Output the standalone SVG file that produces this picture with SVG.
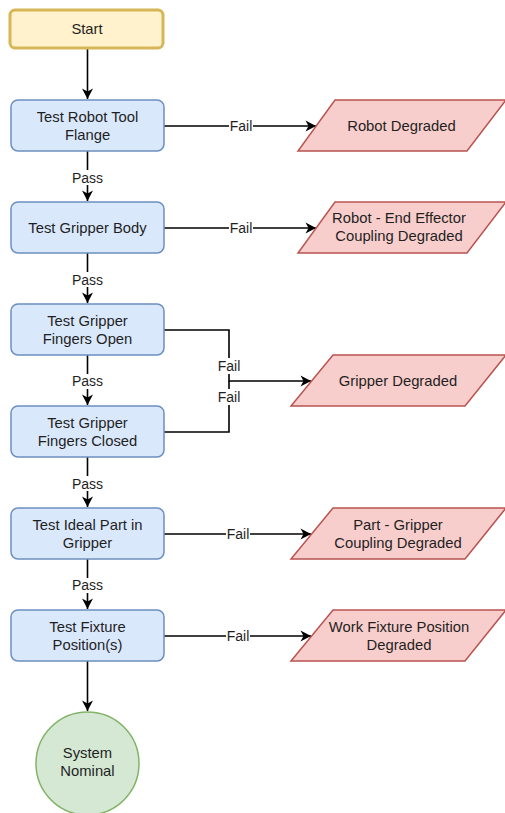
<svg xmlns="http://www.w3.org/2000/svg" width="505" height="813" viewBox="0 0 505 813">
  <style>
    .start { fill: #fff2cc; stroke: #d6b656; stroke-width: 3; }
    .step { fill: #dae8fc; stroke: #6c8ebf; stroke-width: 1.5; }
    .out { fill: #f8cecc; stroke: #b85450; stroke-width: 1.5; }
    .end { fill: #d5e8d4; stroke: #82b366; stroke-width: 1.5; }
    .edge { fill: none; stroke: #000; stroke-width: 1.6; }
    text { font-family: "Liberation Sans", Arial, sans-serif; fill: #1f1f1f; text-anchor: middle; }
    .nt { font-size: 14.8px; }
    .et { font-size: 14px; }
    .lbg { fill: #fff; }
  </style>
  <defs>
    <marker id="arrow" viewBox="-11 -6 12 12" refX="0" refY="0" markerWidth="12" markerHeight="12" markerUnits="userSpaceOnUse" orient="auto">
      <path d="M0,0 L-10.5,-5.5 L-7.5,0 L-10.5,5.5 Z" fill="#000"/>
    </marker>
  </defs>

  <!-- connectors -->
  <g id="connectors">
    <path class="edge" d="M87.5,49 V99" marker-end="url(#arrow)"/>
    <path class="edge" d="M87.5,151 V201" marker-end="url(#arrow)"/>
    <path class="edge" d="M87.5,253 V303" marker-end="url(#arrow)"/>
    <path class="edge" d="M87.5,355 V405" marker-end="url(#arrow)"/>
    <path class="edge" d="M87.5,457 V507" marker-end="url(#arrow)"/>
    <path class="edge" d="M87.5,559 V609" marker-end="url(#arrow)"/>
    <path class="edge" d="M87.5,661 V711" marker-end="url(#arrow)"/>

    <path class="edge" d="M164,126 H316" marker-end="url(#arrow)"/>
    <path class="edge" d="M164,228 H316" marker-end="url(#arrow)"/>
    <path class="edge" d="M164,330 H229 V381 H311" marker-end="url(#arrow)"/>
    <path class="edge" d="M164,432 H229 V381"/>
    <path class="edge" d="M164,534 H311" marker-end="url(#arrow)"/>
    <path class="edge" d="M164,636 H311" marker-end="url(#arrow)"/>

    <!-- edge labels -->
    <rect class="lbg" x="73" y="170" width="29" height="15"/>
    <text class="et" x="87.5" y="183">Pass</text>
    <rect class="lbg" x="73" y="272" width="29" height="15"/>
    <text class="et" x="87.5" y="285">Pass</text>
    <rect class="lbg" x="73" y="374" width="29" height="15"/>
    <text class="et" x="87.5" y="386">Pass</text>
    <rect class="lbg" x="73" y="476" width="29" height="15"/>
    <text class="et" x="87.5" y="489">Pass</text>
    <rect class="lbg" x="73" y="578" width="29" height="15"/>
    <text class="et" x="87.5" y="590">Pass</text>

    <rect class="lbg" x="229" y="119" width="24" height="15"/>
    <text class="et" x="241" y="131">Fail</text>
    <rect class="lbg" x="229" y="221" width="24" height="15"/>
    <text class="et" x="241" y="233">Fail</text>
    <rect class="lbg" x="216" y="358" width="26" height="16"/>
    <text class="et" x="229" y="371">Fail</text>
    <rect class="lbg" x="216" y="389" width="26" height="16"/>
    <text class="et" x="229" y="402">Fail</text>
    <rect class="lbg" x="226" y="527" width="24" height="15"/>
    <text class="et" x="238" y="539">Fail</text>
    <rect class="lbg" x="226" y="629" width="24" height="15"/>
    <text class="et" x="238" y="641">Fail</text>
  </g>

  <!-- flow steps -->
  <g id="start">
    <rect class="start" x="10" y="10" width="153" height="38" rx="5"/>
    <text class="nt" x="87" y="34">Start</text>
  </g>
  <g id="test-flange">
    <rect class="step" x="11" y="100" width="153" height="51" rx="7"/>
    <text class="nt" x="87.5" y="121.5">Test Robot Tool</text>
    <text class="nt" x="87.5" y="139.5">Flange</text>
  </g>
  <g id="test-body">
    <rect class="step" x="11" y="202" width="153" height="51" rx="7"/>
    <text class="nt" x="87.5" y="233">Test Gripper Body</text>
  </g>
  <g id="test-open">
    <rect class="step" x="11" y="304" width="153" height="51" rx="7"/>
    <text class="nt" x="87.5" y="325.5">Test Gripper</text>
    <text class="nt" x="87.5" y="343.5">Fingers Open</text>
  </g>
  <g id="test-closed">
    <rect class="step" x="11" y="406" width="153" height="51" rx="7"/>
    <text class="nt" x="87.5" y="427.5">Test Gripper</text>
    <text class="nt" x="87.5" y="445.5">Fingers Closed</text>
  </g>
  <g id="test-part">
    <rect class="step" x="11" y="508" width="153" height="51" rx="7"/>
    <text class="nt" x="87.5" y="529.5">Test Ideal Part in</text>
    <text class="nt" x="87.5" y="547.5">Gripper</text>
  </g>
  <g id="test-fixture">
    <rect class="step" x="11" y="610" width="153" height="51" rx="7"/>
    <text class="nt" x="87.5" y="631.5">Test Fixture</text>
    <text class="nt" x="87.5" y="649.5">Position(s)</text>
  </g>
  <g id="system-nominal">
    <circle class="end" cx="87.5" cy="763.5" r="51.5"/>
    <text class="nt" x="87.5" y="758">System</text>
    <text class="nt" x="87.5" y="776">Nominal</text>
  </g>

  <!-- outcomes -->
  <g id="robot-degraded">
    <path class="out" d="M335,100 H506 L467,151 H298 Z"/>
    <text class="nt" x="401.5" y="131">Robot Degraded</text>
  </g>
  <g id="coupling-degraded">
    <path class="out" d="M335,202 H506 L467,253 H298 Z"/>
    <text class="nt" x="399" y="223">Robot - End Effector</text>
    <text class="nt" x="399" y="241">Coupling Degraded</text>
  </g>
  <g id="gripper-degraded">
    <path class="out" d="M333,355 H506 L465,406 H291 Z"/>
    <text class="nt" x="398" y="386">Gripper Degraded</text>
  </g>
  <g id="part-coupling-degraded">
    <path class="out" d="M333,508 H506 L465,559 H291 Z"/>
    <text class="nt" x="398" y="529.5">Part - Gripper</text>
    <text class="nt" x="398" y="547.5">Coupling Degraded</text>
  </g>
  <g id="fixture-degraded">
    <path class="out" d="M333,610 H506 L465,661 H291 Z"/>
    <text class="nt" x="399" y="631.5">Work Fixture Position</text>
    <text class="nt" x="399" y="649.5">Degraded</text>
  </g>
</svg>
